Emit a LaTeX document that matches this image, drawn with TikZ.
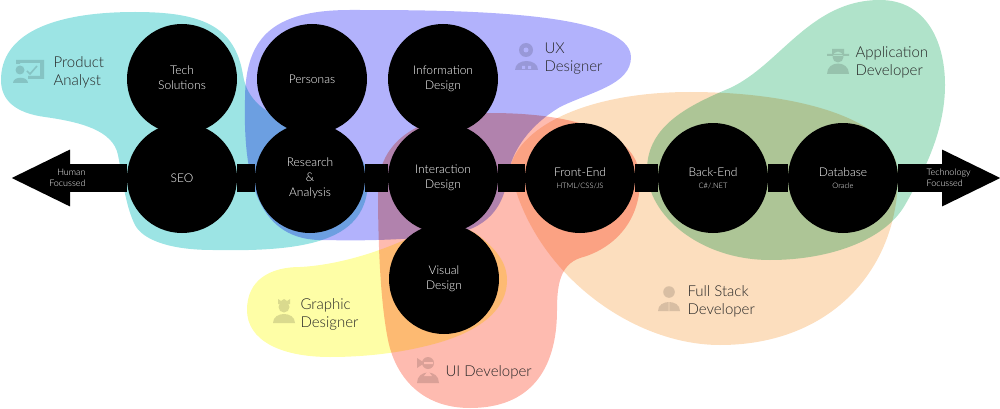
\documentclass[tikz,border=0pt]{standalone}
\usepackage{fontspec}
\setmainfont{Lato Light}
\usetikzlibrary{arrows.meta}
\definecolor{cteal}{HTML}{9CE4E4}
\definecolor{cpurple}{HTML}{B2B2FC}
\definecolor{cred}{HTML}{FEBBB0}
\definecolor{cpeach}{HTML}{FCDEBE}
\definecolor{cgreen}{HTML}{B0E3CA}
\definecolor{cyellow}{HTML}{FEFEA6}
\newcommand\subtxt[1]{{\fontsize{7.5}{8}\selectfont #1}}
\newcommand\lifted[2]{\raisebox{#1}{\begin{tabular}{@{}c@{}}#2\end{tabular}}}
\tikzset{
  blob/.style={fill=#1,draw=none,blend mode=multiply},
  skill/.style={circle,fill=black,draw=none,minimum size=110pt,inner sep=0pt,text=white,align=center,font=\fontsize{12}{15}\selectfont},
  shaft/.style={line width=28pt,draw=black},
  endhead/.style={{Triangle[length=60pt,width=52pt]}-},
  role/.style={anchor=west,align=left,text=black!85,font=\fontsize{15}{18}\selectfont},
  dir/.style={text=white,font=\fontsize{9}{10.5}\selectfont},
  icon/.style={fill=black,opacity=.14,draw=none}
}
\begin{document}
\begin{tikzpicture}[x=1pt,y=-1pt]
\useasboundingbox (0,0) rectangle (1000,409);
% teal: Product Analyst
\fill[blob=cteal] (1,80) .. controls (1,35) and (50,12) .. (135,12)
 .. controls (200,12) and (235,25) .. (243,75)
 .. controls (247,100) and (265,115) .. (300,125)
 .. controls (345,138) and (368,155) .. (368,180)
 .. controls (368,240) and (310,252) .. (213,250)
 .. controls (170,250) and (143,240) .. (135,225)
 .. controls (125,205) and (122,175) .. (118,155)
 .. controls (113,130) and (80,122) .. (45,117)
 .. controls (15,113) and (1,100) .. (1,80) -- cycle;
% purple: UX Designer
\fill[blob=cpurple] (245,100) .. controls (245,40) and (270,10) .. (350,10)
 .. controls (450,10) and (630,10) .. (631,57)
 .. controls (631,85) and (590,92) .. (560,107)
 .. controls (530,125) and (512,150) .. (508,175)
 .. controls (503,215) and (480,232) .. (440,236)
 .. controls (400,240) and (360,241) .. (325,240)
 .. controls (258,242) and (243,180) .. (245,100) -- cycle;
% yellow: Graphic Designer
\fill[blob=cyellow] (247,310) .. controls (247,280) and (270,267) .. (300,267)
 .. controls (340,265) and (385,250) .. (415,235)
 .. controls (440,222) and (465,225) .. (478,235)
 .. controls (495,248) and (507,262) .. (507,280)
 .. controls (507,315) and (470,335) .. (430,345)
 .. controls (395,354) and (360,357) .. (330,357)
 .. controls (280,357) and (247,340) .. (247,310) -- cycle;
% red: UI Developer
\fill[blob=cred] (378,190) .. controls (378,140) and (420,113) .. (490,113)
 .. controls (580,113) and (640,135) .. (640,180)
 .. controls (640,225) and (610,250) .. (580,258)
 .. controls (560,265) and (557,285) .. (557,310)
 .. controls (557,370) and (530,408) .. (470,408)
 .. controls (420,408) and (395,375) .. (388,340)
 .. controls (380,300) and (378,240) .. (378,190) -- cycle;
% peach: Full Stack Developer
\fill[blob=cpeach] (510,168) .. controls (520,125) and (590,92) .. (690,92)
 .. controls (800,92) and (898,120) .. (898,175)
 .. controls (898,270) and (830,345) .. (720,345)
 .. controls (630,345) and (530,270) .. (510,168) -- cycle;
% green: Application Developer
\fill[blob=cgreen] (880,0) .. controls (925,0) and (945,40) .. (945,85)
 .. controls (945,130) and (925,170) .. (905,205)
 .. controls (885,240) and (830,260) .. (770,260)
 .. controls (700,260) and (647,215) .. (647,170)
 .. controls (647,125) and (690,105) .. (730,88)
 .. controls (780,65) and (810,0) .. (880,0) -- cycle;
\coordinate (tipL) at (10,178);
\coordinate (tipR) at (1002,178);
\node[skill] (tech) at (182,79) {\lifted{3pt}{Tech\\Solutions}};
\node[skill] (seo) at (182,178) {SEO};
\node[skill] (pers) at (312,79) {Personas};
\node[skill] (res) at (310,178) {Research\\\&\\Analysis};
\node[skill] (info) at (443,79) {Information\\Design};
\node[skill] (inter) at (443,178) {Interaction\\Design};
\node[skill] (vis) at (444,279) {Visual\\Design};
\node[skill] (front) at (580,178) {Front-End\\[-3pt]\subtxt{HTML/CSS/JS}};
\node[skill] (back) at (713,178) {Back-End\\[-3pt]\subtxt{C\#/.NET}};
\node[skill] (db) at (843,178) {Database\\[-3pt]\subtxt{Oracle}};
\draw[shaft,endhead] (tipL) -- (seo);
\draw[shaft] (seo) -- (res);
\draw[shaft] (res) -- (inter);
\draw[shaft] (inter) -- (front);
\draw[shaft] (front) -- (back);
\draw[shaft] (back) -- (db);
\draw[shaft,-{Triangle[length=60pt,width=52pt]}] (db) -- (tipR);
\node[dir,anchor=east,align=right] (human) at (89,178) {Human\\Focussed};
\node[dir,anchor=west,align=left] (techf) at (923,178) {Technology\\Focussed};
\node[role] (pa) at (50,72) {Product\\Analyst};
\node[role] (ux) at (541,59) {UX\\Designer};
\node[role] (ad) at (852,62) {Application\\Developer};
\node[role] (fs) at (684,301) {Full Stack\\Developer};
\node[role] (gd) at (297,314) {Graphic\\Designer};
\node[role] (ui) at (442,372) {UI Developer};
% icons
\fill[icon] (20,70) circle (4.5)
 (13,83) .. controls (13,76) and (28,76) .. (28,83) -- cycle;
\fill[icon] (16,60) -- (44,60) -- (44,79) -- (28,79) -- (28,76) -- (40,76) -- (40,63) -- (20,63) -- (20,64) -- (16,64) -- cycle;
\draw[black,opacity=.14,line width=1.6pt] (27,71) -- (30,74) -- (37,66);
\fill[icon] (526,50) circle (7)
 (515,70) .. controls (515,58) and (538,58) .. (538,70) -- cycle;
\fill[cpurple] (526,50) circle (2.5) (522,66) rectangle (525,69) (528,66) rectangle (531,69);
\fill[icon] (838,57) circle (5.5)
 (832,49) rectangle (844,55)
 (827,54) rectangle (849,56)
 (827,74) .. controls (827,60) and (849,60) .. (849,74) -- cycle;
\fill[icon] (669,292) circle (5.8)
 (658,311) .. controls (658,299) and (680,299) .. (680,311) -- cycle;
\fill[cpeach!90!black] (668,302) rectangle (670,311);
\fill[icon] (284,307) circle (5.5)
 (278,299) -- (281,301) -- (284,299) -- (287,301) -- (290,299) -- (290,304) -- (278,304) -- cycle
 (273,323) .. controls (273,311) and (295,311) .. (295,323) -- cycle;
\fill[icon] (428,363) circle (6)
 (417,383) .. controls (417,369) and (439,369) .. (439,383) -- cycle
 (417,358) -- (423,362) -- (423,364) -- (417,368) -- cycle;
\fill[cred] (424,362) rectangle (433,364) (428,371) -- (424,376) -- (432,376) -- cycle;
\end{tikzpicture}
\end{document}
